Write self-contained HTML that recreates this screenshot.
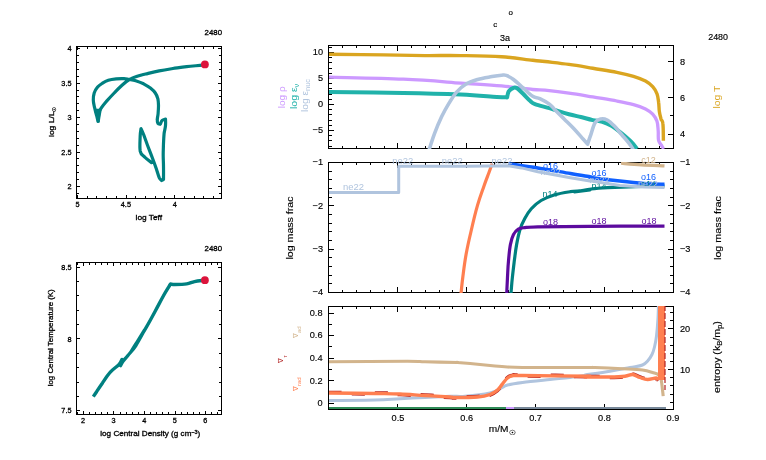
<!DOCTYPE html>
<html lang="en"><head><meta charset="utf-8"><title>pgstar 2480</title>
<style>html,body{margin:0;padding:0;background:#fff;overflow:hidden}svg{display:block}text{font-family:"Liberation Sans",sans-serif;stroke-width:0.15px;paint-order:stroke}</style>
</head><body>
<svg width="766" height="460" viewBox="0 0 766 460">
<rect x="0" y="0" width="766" height="460" fill="#fff"/>
<g id="hr">
<path d="M204.9 64.6C204.4 64.7 205.6 64.9 202.3 65.2C199.0 65.6 191.9 66.0 186.7 66.6C181.4 67.2 177.9 67.8 172.9 68.5C168.0 69.3 164.2 69.9 159.2 70.9C154.3 71.9 149.8 73.0 145.5 74.0C141.3 75.1 138.7 75.7 135.7 76.8C132.7 77.8 131.4 78.4 128.9 79.9C126.4 81.4 124.7 82.8 122.0 85.2C119.4 87.5 117.0 90.1 114.2 93.0C111.4 95.9 108.7 98.8 106.4 101.4C104.1 104.1 102.9 105.5 101.5 107.7C100.1 109.9 99.1 111.1 98.5 113.6C97.9 116.0 98.2 120.0 98.1 121.4C97.9 120.4 97.2 118.0 96.6 115.5C95.9 113.1 95.2 110.5 94.6 107.7C94.0 104.9 93.3 102.5 93.3 99.9C93.2 97.2 93.5 95.3 94.2 93.0C95.0 90.7 96.1 88.9 97.6 87.1C99.0 85.4 100.5 84.5 102.5 83.2C104.4 82.0 105.9 81.1 108.3 80.3C110.8 79.5 113.3 79.2 116.2 78.9C119.0 78.6 121.7 78.7 124.0 78.7C126.3 78.8 126.8 79.0 128.9 79.3C131.0 79.7 133.1 79.9 135.7 80.7C138.4 81.5 140.9 82.5 143.6 83.8C146.2 85.2 148.3 86.5 150.4 88.1C152.5 89.8 154.0 91.1 155.3 93.0C156.7 95.0 157.3 96.6 157.9 98.9C158.4 101.2 158.4 103.1 158.5 105.7C158.5 108.4 158.3 111.1 158.1 113.6C157.9 116.0 157.3 117.7 157.3 119.4C157.2 121.2 157.3 122.5 157.9 123.4C158.4 124.2 159.8 124.2 160.2 124.3C160.6 123.6 161.2 121.4 162.2 120.4C163.1 119.5 164.9 119.3 165.5 119.1C165.5 120.2 165.8 123.1 165.5 125.7C165.3 128.3 164.5 130.3 164.1 133.5C163.8 136.7 163.7 139.4 163.5 143.3C163.4 147.2 163.2 150.8 163.2 155.0C163.2 159.3 163.5 162.4 163.5 166.8C163.6 171.2 163.5 177.2 163.5 179.5C163.2 179.7 161.9 180.3 161.6 180.5C161.2 180.0 160.2 179.7 159.2 177.6C158.3 175.4 157.5 172.3 156.3 168.7C155.1 165.2 154.0 162.2 152.4 158.0C150.8 153.7 149.1 149.5 147.5 145.2C145.9 141.0 144.7 137.5 143.6 134.5C142.4 131.5 141.5 129.7 141.0 128.6C140.9 129.8 140.4 131.4 140.2 135.5C140.1 139.5 139.5 147.2 140.2 151.1C141.0 155.0 142.4 154.8 144.6 157.0C146.7 159.2 151.0 162.1 152.4 163.3" fill="none" stroke="#008080" stroke-width="3.20" stroke-linejoin="round" stroke-linecap="butt" />
<polygon points="95,108.7 101.9,108.7 99.6,122.6 96.9,122.6" fill="#008080"/>
<circle cx="204.9" cy="64.4" r="3.9" fill="#DC143C"/>
<g shape-rendering="crispEdges">
<rect x="76" y="46" width="146" height="1" fill="#000"/>
<rect x="76" y="198" width="146" height="1" fill="#000"/>
<rect x="76" y="46" width="1" height="153" fill="#000"/>
<rect x="221" y="46" width="1" height="153" fill="#000"/>
<rect x="77" y="195" width="1" height="3" fill="#000"/>
<rect x="77" y="47" width="1" height="3" fill="#000"/>
<rect x="87" y="196" width="1" height="2" fill="#000"/>
<rect x="87" y="47" width="1" height="2" fill="#000"/>
<rect x="96" y="196" width="1" height="2" fill="#000"/>
<rect x="96" y="47" width="1" height="2" fill="#000"/>
<rect x="106" y="196" width="1" height="2" fill="#000"/>
<rect x="106" y="47" width="1" height="2" fill="#000"/>
<rect x="116" y="196" width="1" height="2" fill="#000"/>
<rect x="116" y="47" width="1" height="2" fill="#000"/>
<rect x="126" y="195" width="1" height="3" fill="#000"/>
<rect x="126" y="47" width="1" height="3" fill="#000"/>
<rect x="135" y="196" width="1" height="2" fill="#000"/>
<rect x="135" y="47" width="1" height="2" fill="#000"/>
<rect x="145" y="196" width="1" height="2" fill="#000"/>
<rect x="145" y="47" width="1" height="2" fill="#000"/>
<rect x="155" y="196" width="1" height="2" fill="#000"/>
<rect x="155" y="47" width="1" height="2" fill="#000"/>
<rect x="164" y="196" width="1" height="2" fill="#000"/>
<rect x="164" y="47" width="1" height="2" fill="#000"/>
<rect x="174" y="195" width="1" height="3" fill="#000"/>
<rect x="174" y="47" width="1" height="3" fill="#000"/>
<rect x="184" y="196" width="1" height="2" fill="#000"/>
<rect x="184" y="47" width="1" height="2" fill="#000"/>
<rect x="194" y="196" width="1" height="2" fill="#000"/>
<rect x="194" y="47" width="1" height="2" fill="#000"/>
<rect x="203" y="196" width="1" height="2" fill="#000"/>
<rect x="203" y="47" width="1" height="2" fill="#000"/>
<rect x="213" y="196" width="1" height="2" fill="#000"/>
<rect x="213" y="47" width="1" height="2" fill="#000"/>
<rect x="77" y="48" width="3" height="1" fill="#000"/>
<rect x="218" y="48" width="3" height="1" fill="#000"/>
<rect x="77" y="55" width="2" height="1" fill="#000"/>
<rect x="219" y="55" width="2" height="1" fill="#000"/>
<rect x="77" y="62" width="2" height="1" fill="#000"/>
<rect x="219" y="62" width="2" height="1" fill="#000"/>
<rect x="77" y="69" width="2" height="1" fill="#000"/>
<rect x="219" y="69" width="2" height="1" fill="#000"/>
<rect x="77" y="76" width="2" height="1" fill="#000"/>
<rect x="219" y="76" width="2" height="1" fill="#000"/>
<rect x="77" y="83" width="3" height="1" fill="#000"/>
<rect x="218" y="83" width="3" height="1" fill="#000"/>
<rect x="77" y="90" width="2" height="1" fill="#000"/>
<rect x="219" y="90" width="2" height="1" fill="#000"/>
<rect x="77" y="96" width="2" height="1" fill="#000"/>
<rect x="219" y="96" width="2" height="1" fill="#000"/>
<rect x="77" y="103" width="2" height="1" fill="#000"/>
<rect x="219" y="103" width="2" height="1" fill="#000"/>
<rect x="77" y="110" width="2" height="1" fill="#000"/>
<rect x="219" y="110" width="2" height="1" fill="#000"/>
<rect x="77" y="117" width="3" height="1" fill="#000"/>
<rect x="218" y="117" width="3" height="1" fill="#000"/>
<rect x="77" y="124" width="2" height="1" fill="#000"/>
<rect x="219" y="124" width="2" height="1" fill="#000"/>
<rect x="77" y="131" width="2" height="1" fill="#000"/>
<rect x="219" y="131" width="2" height="1" fill="#000"/>
<rect x="77" y="138" width="2" height="1" fill="#000"/>
<rect x="219" y="138" width="2" height="1" fill="#000"/>
<rect x="77" y="145" width="2" height="1" fill="#000"/>
<rect x="219" y="145" width="2" height="1" fill="#000"/>
<rect x="77" y="152" width="3" height="1" fill="#000"/>
<rect x="218" y="152" width="3" height="1" fill="#000"/>
<rect x="77" y="158" width="2" height="1" fill="#000"/>
<rect x="219" y="158" width="2" height="1" fill="#000"/>
<rect x="77" y="165" width="2" height="1" fill="#000"/>
<rect x="219" y="165" width="2" height="1" fill="#000"/>
<rect x="77" y="172" width="2" height="1" fill="#000"/>
<rect x="219" y="172" width="2" height="1" fill="#000"/>
<rect x="77" y="179" width="2" height="1" fill="#000"/>
<rect x="219" y="179" width="2" height="1" fill="#000"/>
<rect x="77" y="186" width="3" height="1" fill="#000"/>
<rect x="218" y="186" width="3" height="1" fill="#000"/>
<rect x="77" y="193" width="2" height="1" fill="#000"/>
<rect x="219" y="193" width="2" height="1" fill="#000"/>
</g>
<text x="71.5" y="51.1" font-size="7.3" fill="#000" stroke="#000" text-anchor="end"  style="stroke-width:0.3px">4</text>
<text x="71.5" y="85.6" font-size="7.3" fill="#000" stroke="#000" text-anchor="end"  style="stroke-width:0.3px">3.5</text>
<text x="71.5" y="120.1" font-size="7.3" fill="#000" stroke="#000" text-anchor="end"  style="stroke-width:0.3px">3</text>
<text x="71.5" y="154.6" font-size="7.3" fill="#000" stroke="#000" text-anchor="end"  style="stroke-width:0.3px">2.5</text>
<text x="71.5" y="189.1" font-size="7.3" fill="#000" stroke="#000" text-anchor="end"  style="stroke-width:0.3px">2</text>
<text x="77.5" y="207" font-size="7.3" fill="#000" stroke="#000" text-anchor="middle"  style="stroke-width:0.3px">5</text>
<text x="125.9" y="207" font-size="7.3" fill="#000" stroke="#000" text-anchor="middle"  style="stroke-width:0.3px">4.5</text>
<text x="174.8" y="207" font-size="7.3" fill="#000" stroke="#000" text-anchor="middle"  style="stroke-width:0.3px">4</text>
<text x="148.8" y="219.8" font-size="7.5" fill="#000" stroke="#000" text-anchor="middle"  textLength="26.5" lengthAdjust="spacingAndGlyphs" style="stroke-width:0.3px">log Teff</text>
<text x="54" y="122" font-size="7.5" fill="#000" stroke="#000" text-anchor="middle" transform="rotate(-90 54 122)"  textLength="30" lengthAdjust="spacingAndGlyphs" style="stroke-width:0.3px">log L/L<tspan font-size="5" dy="1.5">☉</tspan></text>
<text x="222" y="35" font-size="7.3" fill="#000" stroke="#000" text-anchor="end"  textLength="17.4" lengthAdjust="spacingAndGlyphs" style="stroke-width:0.3px">2480</text>
</g>
<g id="trho">
<path d="M204.9 280.2C203.0 280.5 197.8 280.9 194.5 281.6C191.2 282.3 190.2 283.4 186.7 283.9C183.1 284.5 177.8 284.5 174.9 284.5C172.0 284.5 171.4 284.0 170.6 283.9C170.3 284.4 170.4 284.3 169.0 286.5C167.7 288.7 165.6 291.9 163.2 296.3C160.7 300.7 158.5 305.1 155.3 311.0C152.2 316.8 149.1 322.6 145.5 328.6C142.0 334.6 138.4 340.0 135.7 344.2C133.1 348.5 131.7 350.7 130.8 352.1C133.3 348.1 142.1 334.0 144.6 330.0C143.0 332.8 138.7 341.1 135.7 345.7C132.7 350.2 130.2 352.6 127.9 355.5C125.6 358.3 124.4 359.5 123.0 361.3C121.7 363.2 120.9 364.9 120.5 365.6C120.8 364.5 121.8 360.5 122.0 359.4C121.5 360.3 121.2 362.0 119.1 364.3C117.0 366.6 113.3 368.8 110.3 372.1C107.3 375.4 104.9 379.3 102.5 382.9C100.0 386.4 98.2 389.2 96.6 391.7C94.9 394.1 93.9 395.7 93.3 396.6" fill="none" stroke="#008080" stroke-width="3.40" stroke-linejoin="round" stroke-linecap="butt" />
<circle cx="204.9" cy="280.2" r="3.9" fill="#DC143C"/>
<g shape-rendering="crispEdges">
<rect x="76" y="262" width="146" height="1" fill="#000"/>
<rect x="76" y="414" width="146" height="1" fill="#000"/>
<rect x="76" y="262" width="1" height="153" fill="#000"/>
<rect x="221" y="262" width="1" height="153" fill="#000"/>
<rect x="77" y="412" width="1" height="2" fill="#000"/>
<rect x="77" y="263" width="1" height="2" fill="#000"/>
<rect x="83" y="411" width="1" height="3" fill="#000"/>
<rect x="83" y="263" width="1" height="3" fill="#000"/>
<rect x="89" y="412" width="1" height="2" fill="#000"/>
<rect x="89" y="263" width="1" height="2" fill="#000"/>
<rect x="95" y="412" width="1" height="2" fill="#000"/>
<rect x="95" y="263" width="1" height="2" fill="#000"/>
<rect x="101" y="412" width="1" height="2" fill="#000"/>
<rect x="101" y="263" width="1" height="2" fill="#000"/>
<rect x="107" y="412" width="1" height="2" fill="#000"/>
<rect x="107" y="263" width="1" height="2" fill="#000"/>
<rect x="113" y="411" width="1" height="3" fill="#000"/>
<rect x="113" y="263" width="1" height="3" fill="#000"/>
<rect x="120" y="412" width="1" height="2" fill="#000"/>
<rect x="120" y="263" width="1" height="2" fill="#000"/>
<rect x="126" y="412" width="1" height="2" fill="#000"/>
<rect x="126" y="263" width="1" height="2" fill="#000"/>
<rect x="132" y="412" width="1" height="2" fill="#000"/>
<rect x="132" y="263" width="1" height="2" fill="#000"/>
<rect x="138" y="412" width="1" height="2" fill="#000"/>
<rect x="138" y="263" width="1" height="2" fill="#000"/>
<rect x="144" y="411" width="1" height="3" fill="#000"/>
<rect x="144" y="263" width="1" height="3" fill="#000"/>
<rect x="150" y="412" width="1" height="2" fill="#000"/>
<rect x="150" y="263" width="1" height="2" fill="#000"/>
<rect x="156" y="412" width="1" height="2" fill="#000"/>
<rect x="156" y="263" width="1" height="2" fill="#000"/>
<rect x="162" y="412" width="1" height="2" fill="#000"/>
<rect x="162" y="263" width="1" height="2" fill="#000"/>
<rect x="168" y="412" width="1" height="2" fill="#000"/>
<rect x="168" y="263" width="1" height="2" fill="#000"/>
<rect x="175" y="411" width="1" height="3" fill="#000"/>
<rect x="175" y="263" width="1" height="3" fill="#000"/>
<rect x="181" y="412" width="1" height="2" fill="#000"/>
<rect x="181" y="263" width="1" height="2" fill="#000"/>
<rect x="187" y="412" width="1" height="2" fill="#000"/>
<rect x="187" y="263" width="1" height="2" fill="#000"/>
<rect x="193" y="412" width="1" height="2" fill="#000"/>
<rect x="193" y="263" width="1" height="2" fill="#000"/>
<rect x="199" y="412" width="1" height="2" fill="#000"/>
<rect x="199" y="263" width="1" height="2" fill="#000"/>
<rect x="205" y="411" width="1" height="3" fill="#000"/>
<rect x="205" y="263" width="1" height="3" fill="#000"/>
<rect x="211" y="412" width="1" height="2" fill="#000"/>
<rect x="211" y="263" width="1" height="2" fill="#000"/>
<rect x="217" y="412" width="1" height="2" fill="#000"/>
<rect x="217" y="263" width="1" height="2" fill="#000"/>
<rect x="77" y="267" width="3" height="1" fill="#000"/>
<rect x="218" y="267" width="3" height="1" fill="#000"/>
<rect x="77" y="281" width="2" height="1" fill="#000"/>
<rect x="219" y="281" width="2" height="1" fill="#000"/>
<rect x="77" y="295" width="2" height="1" fill="#000"/>
<rect x="219" y="295" width="2" height="1" fill="#000"/>
<rect x="77" y="310" width="2" height="1" fill="#000"/>
<rect x="219" y="310" width="2" height="1" fill="#000"/>
<rect x="77" y="324" width="2" height="1" fill="#000"/>
<rect x="219" y="324" width="2" height="1" fill="#000"/>
<rect x="77" y="338" width="3" height="1" fill="#000"/>
<rect x="218" y="338" width="3" height="1" fill="#000"/>
<rect x="77" y="353" width="2" height="1" fill="#000"/>
<rect x="219" y="353" width="2" height="1" fill="#000"/>
<rect x="77" y="367" width="2" height="1" fill="#000"/>
<rect x="219" y="367" width="2" height="1" fill="#000"/>
<rect x="77" y="382" width="2" height="1" fill="#000"/>
<rect x="219" y="382" width="2" height="1" fill="#000"/>
<rect x="77" y="396" width="2" height="1" fill="#000"/>
<rect x="219" y="396" width="2" height="1" fill="#000"/>
<rect x="77" y="410" width="3" height="1" fill="#000"/>
<rect x="218" y="410" width="3" height="1" fill="#000"/>
</g>
<text x="71.5" y="269.6" font-size="7.3" fill="#000" stroke="#000" text-anchor="end"  style="stroke-width:0.3px">8.5</text>
<text x="71.5" y="341.6" font-size="7.3" fill="#000" stroke="#000" text-anchor="end"  style="stroke-width:0.3px">8</text>
<text x="71.5" y="413.3" font-size="7.3" fill="#000" stroke="#000" text-anchor="end"  style="stroke-width:0.3px">7.5</text>
<text x="83" y="422.9" font-size="7.3" fill="#000" stroke="#000" text-anchor="middle"  style="stroke-width:0.3px">2</text>
<text x="113.5" y="422.9" font-size="7.3" fill="#000" stroke="#000" text-anchor="middle"  style="stroke-width:0.3px">3</text>
<text x="144.2" y="422.9" font-size="7.3" fill="#000" stroke="#000" text-anchor="middle"  style="stroke-width:0.3px">4</text>
<text x="174.8" y="422.9" font-size="7.3" fill="#000" stroke="#000" text-anchor="middle"  style="stroke-width:0.3px">5</text>
<text x="205.3" y="422.9" font-size="7.3" fill="#000" stroke="#000" text-anchor="middle"  style="stroke-width:0.3px">6</text>
<text x="150.3" y="436.1" font-size="7.5" fill="#000" stroke="#000" text-anchor="middle"  textLength="100" lengthAdjust="spacingAndGlyphs" style="stroke-width:0.3px">log Central Density (g cm<tspan font-size="5" dy="-2.5">−3</tspan><tspan dy="2.5">)</tspan></text>
<text x="53.3" y="337.8" font-size="7.5" fill="#000" stroke="#000" text-anchor="middle" transform="rotate(-90 53.3 337.8)"  textLength="97" lengthAdjust="spacingAndGlyphs" style="stroke-width:0.3px">log Central Temperature (K)</text>
<text x="222" y="250.5" font-size="7.3" fill="#000" stroke="#000" text-anchor="end"  textLength="17.4" lengthAdjust="spacingAndGlyphs" style="stroke-width:0.3px">2480</text>
</g>
<g id="top">
<clipPath id="ctop"><rect x="329" y="45" width="344" height="104"/></clipPath>
<g shape-rendering="crispEdges">
<rect x="328" y="45" width="346" height="1" fill="#000"/>
<rect x="328" y="148" width="346" height="1" fill="#000"/>
<rect x="328" y="45" width="1" height="104" fill="#000"/>
<rect x="673" y="45" width="1" height="104" fill="#000"/>
<rect x="328" y="143" width="1" height="5" fill="#000"/>
<rect x="328" y="46" width="1" height="5" fill="#000"/>
<rect x="342" y="146" width="1" height="2" fill="#000"/>
<rect x="342" y="46" width="1" height="2" fill="#000"/>
<rect x="356" y="146" width="1" height="2" fill="#000"/>
<rect x="356" y="46" width="1" height="2" fill="#000"/>
<rect x="370" y="146" width="1" height="2" fill="#000"/>
<rect x="370" y="46" width="1" height="2" fill="#000"/>
<rect x="384" y="146" width="1" height="2" fill="#000"/>
<rect x="384" y="46" width="1" height="2" fill="#000"/>
<rect x="397" y="143" width="1" height="5" fill="#000"/>
<rect x="397" y="46" width="1" height="5" fill="#000"/>
<rect x="411" y="146" width="1" height="2" fill="#000"/>
<rect x="411" y="46" width="1" height="2" fill="#000"/>
<rect x="425" y="146" width="1" height="2" fill="#000"/>
<rect x="425" y="46" width="1" height="2" fill="#000"/>
<rect x="439" y="146" width="1" height="2" fill="#000"/>
<rect x="439" y="46" width="1" height="2" fill="#000"/>
<rect x="452" y="146" width="1" height="2" fill="#000"/>
<rect x="452" y="46" width="1" height="2" fill="#000"/>
<rect x="466" y="143" width="1" height="5" fill="#000"/>
<rect x="466" y="46" width="1" height="5" fill="#000"/>
<rect x="480" y="146" width="1" height="2" fill="#000"/>
<rect x="480" y="46" width="1" height="2" fill="#000"/>
<rect x="494" y="146" width="1" height="2" fill="#000"/>
<rect x="494" y="46" width="1" height="2" fill="#000"/>
<rect x="508" y="146" width="1" height="2" fill="#000"/>
<rect x="508" y="46" width="1" height="2" fill="#000"/>
<rect x="521" y="146" width="1" height="2" fill="#000"/>
<rect x="521" y="46" width="1" height="2" fill="#000"/>
<rect x="535" y="143" width="1" height="5" fill="#000"/>
<rect x="535" y="46" width="1" height="5" fill="#000"/>
<rect x="549" y="146" width="1" height="2" fill="#000"/>
<rect x="549" y="46" width="1" height="2" fill="#000"/>
<rect x="563" y="146" width="1" height="2" fill="#000"/>
<rect x="563" y="46" width="1" height="2" fill="#000"/>
<rect x="576" y="146" width="1" height="2" fill="#000"/>
<rect x="576" y="46" width="1" height="2" fill="#000"/>
<rect x="590" y="146" width="1" height="2" fill="#000"/>
<rect x="590" y="46" width="1" height="2" fill="#000"/>
<rect x="604" y="143" width="1" height="5" fill="#000"/>
<rect x="604" y="46" width="1" height="5" fill="#000"/>
<rect x="618" y="146" width="1" height="2" fill="#000"/>
<rect x="618" y="46" width="1" height="2" fill="#000"/>
<rect x="632" y="146" width="1" height="2" fill="#000"/>
<rect x="632" y="46" width="1" height="2" fill="#000"/>
<rect x="645" y="146" width="1" height="2" fill="#000"/>
<rect x="645" y="46" width="1" height="2" fill="#000"/>
<rect x="659" y="146" width="1" height="2" fill="#000"/>
<rect x="659" y="46" width="1" height="2" fill="#000"/>
<rect x="673" y="143" width="1" height="5" fill="#000"/>
<rect x="673" y="46" width="1" height="5" fill="#000"/>
<rect x="329" y="47" width="3" height="1" fill="#000"/>
<rect x="329" y="52" width="5" height="1" fill="#000"/>
<rect x="329" y="57" width="3" height="1" fill="#000"/>
<rect x="329" y="62" width="3" height="1" fill="#000"/>
<rect x="329" y="68" width="3" height="1" fill="#000"/>
<rect x="329" y="73" width="3" height="1" fill="#000"/>
<rect x="329" y="78" width="5" height="1" fill="#000"/>
<rect x="329" y="83" width="3" height="1" fill="#000"/>
<rect x="329" y="88" width="3" height="1" fill="#000"/>
<rect x="329" y="94" width="3" height="1" fill="#000"/>
<rect x="329" y="99" width="3" height="1" fill="#000"/>
<rect x="329" y="104" width="5" height="1" fill="#000"/>
<rect x="329" y="109" width="3" height="1" fill="#000"/>
<rect x="329" y="114" width="3" height="1" fill="#000"/>
<rect x="329" y="120" width="3" height="1" fill="#000"/>
<rect x="329" y="125" width="3" height="1" fill="#000"/>
<rect x="329" y="130" width="5" height="1" fill="#000"/>
<rect x="329" y="135" width="3" height="1" fill="#000"/>
<rect x="329" y="140" width="3" height="1" fill="#000"/>
<rect x="329" y="146" width="3" height="1" fill="#000"/>
<rect x="668" y="61" width="5" height="1" fill="#000"/>
<rect x="670" y="79" width="3" height="1" fill="#000"/>
<rect x="668" y="97" width="5" height="1" fill="#000"/>
<rect x="670" y="115" width="3" height="1" fill="#000"/>
<rect x="668" y="134" width="5" height="1" fill="#000"/>
</g>
<g clip-path="url(#ctop)">
<path d="M328.9 54.3C338.8 54.4 366.4 54.7 383.7 54.9C401.0 55.1 411.1 55.4 425.0 55.6C438.9 55.7 447.1 55.3 460.9 55.6C474.7 55.8 488.6 55.9 501.6 56.7C514.5 57.6 524.8 59.5 532.7 60.3C540.5 61.2 538.5 60.8 545.0 61.5C551.5 62.3 560.3 63.2 568.9 64.4C577.5 65.6 584.2 66.8 592.8 68.2C601.5 69.7 609.4 70.8 616.8 72.3C624.1 73.8 628.3 74.8 633.5 76.4C638.7 78.0 642.0 79.3 645.5 81.1C648.9 83.0 650.6 84.4 652.7 86.7C654.7 88.9 655.9 91.0 657.0 93.8C658.0 96.6 658.2 99.0 658.6 102.2C659.1 105.4 658.9 108.8 659.4 111.8C659.8 114.8 660.4 116.8 661.0 118.9C661.7 121.1 662.5 119.8 662.9 123.7C663.4 127.7 663.3 137.7 663.4 140.7" fill="none" stroke="#DAA520" stroke-width="3.40" stroke-linejoin="round" stroke-linecap="butt" />
<path d="M328.9 77.2C342.3 77.6 379.6 78.1 403.3 79.2C427.1 80.2 443.2 81.8 460.9 83.1C478.6 84.3 488.6 84.8 501.6 85.9C514.5 87.1 524.8 88.7 532.7 89.5C540.5 90.3 538.5 89.6 545.0 90.2C551.5 90.9 560.3 91.9 568.9 93.1C577.5 94.3 584.2 95.5 592.8 96.9C601.5 98.4 609.4 99.6 616.8 101.0C624.1 102.4 628.3 103.2 633.5 104.6C638.7 106.0 642.0 107.2 645.5 108.9C648.9 110.6 650.6 111.9 652.7 114.2C654.7 116.4 656.0 118.3 657.0 121.3C658.0 124.4 657.9 127.5 658.2 130.9C658.5 134.4 657.9 137.7 658.6 140.5C659.4 143.3 661.4 145.0 662.2 146.5C663.1 148.0 663.2 148.4 663.4 148.9" fill="none" stroke="#CC99FF" stroke-width="3.30" stroke-linejoin="round" stroke-linecap="butt" />
<path d="M328.9 91.9C342.3 92.1 379.6 92.4 403.3 92.9C427.1 93.3 444.1 93.8 460.9 94.5C477.7 95.3 488.5 96.4 496.8 96.9C505.1 97.5 505.2 97.3 507.1 97.4C507.4 96.3 507.6 93.2 508.7 91.4C509.9 89.7 512.0 88.4 513.5 87.8C515.0 87.3 515.4 87.2 517.1 88.3C518.8 89.4 520.7 91.5 523.1 93.8C525.5 96.1 528.1 99.2 530.3 101.0C532.4 102.9 531.6 102.8 535.0 104.1C538.5 105.4 545.5 107.0 549.4 108.2C553.3 109.3 553.4 109.5 557.0 110.6C560.5 111.7 564.6 113.0 568.9 114.2C573.2 115.3 576.6 116.0 580.9 117.0C585.2 118.1 589.0 119.3 592.8 120.1C596.7 121.0 599.0 120.7 602.4 121.8C605.9 122.9 608.5 124.1 612.0 126.1C615.4 128.2 618.1 130.5 621.6 133.3C625.0 136.1 628.3 138.9 631.1 141.7C633.9 144.5 636.0 147.6 637.1 148.9" fill="none" stroke="#20B2AA" stroke-width="4.00" stroke-linejoin="round" stroke-linecap="butt" />
<path d="M427.4 154.8C427.8 153.5 428.5 151.5 429.8 147.7C431.1 143.8 432.4 138.9 434.6 133.3C436.7 127.7 439.2 121.9 441.7 116.6C444.3 111.2 446.3 107.7 448.9 103.4C451.5 99.1 453.1 96.1 456.1 92.6C459.1 89.2 461.8 86.6 465.7 84.3C469.5 81.9 472.9 80.9 477.6 79.5C482.4 78.1 487.7 77.4 492.0 76.6C496.3 75.8 499.0 75.4 501.6 75.2C504.1 75.0 504.2 74.6 506.3 75.4C508.5 76.2 510.5 77.2 513.5 79.5C516.5 81.7 519.6 84.8 523.1 87.8C526.5 90.9 529.6 94.3 532.7 96.2C535.7 98.2 536.8 97.2 539.8 98.6C542.8 100.0 546.7 102.2 549.4 104.1C552.1 106.1 551.9 106.7 554.6 109.4C557.2 112.0 560.7 115.5 564.1 118.9C567.6 122.4 570.3 124.9 573.7 128.5C577.2 132.2 580.8 136.5 583.3 139.3C585.8 142.1 586.8 143.2 587.6 144.1C588.1 142.6 589.1 139.6 590.5 135.7C591.8 131.8 593.3 125.6 595.2 122.5C597.2 119.5 599.1 119.4 601.2 118.9C603.4 118.5 604.8 118.9 607.2 120.1C609.6 121.4 611.8 123.5 614.4 126.1C617.0 128.7 619.0 131.5 621.6 134.5C624.1 137.5 626.6 140.1 628.7 142.9C630.9 145.7 632.7 148.8 633.5 150.0" fill="none" stroke="#B0C4DE" stroke-width="3.60" stroke-linejoin="round" stroke-linecap="butt" />
</g>
<text x="323" y="55.4" font-size="9.2" fill="#000" stroke="#000" text-anchor="end" >10</text>
<text x="323" y="81.4" font-size="9.2" fill="#000" stroke="#000" text-anchor="end" >5</text>
<text x="323" y="107.4" font-size="9.2" fill="#000" stroke="#000" text-anchor="end" >0</text>
<text x="323" y="133.4" font-size="9.2" fill="#000" stroke="#000" text-anchor="end" >−5</text>
<text x="680" y="64.7" font-size="9.2" fill="#000" stroke="#000" text-anchor="start" >8</text>
<text x="680" y="100.7" font-size="9.2" fill="#000" stroke="#000" text-anchor="start" >6</text>
<text x="680" y="137" font-size="9.2" fill="#000" stroke="#000" text-anchor="start" >4</text>
<text x="285" y="97.3" font-size="9" fill="#CC99FF" stroke="#CC99FF" text-anchor="middle" transform="rotate(-90 285 97.3)"  textLength="22" lengthAdjust="spacingAndGlyphs" style="stroke-width:0">log ρ</text>
<text x="297" y="96.3" font-size="9" fill="#20B2AA" stroke="#20B2AA" text-anchor="middle" transform="rotate(-90 297 96.3)"  textLength="25.4" lengthAdjust="spacingAndGlyphs" style="stroke-width:0">log ε<tspan font-size="6.5" dy="2">ν</tspan></text>
<text x="307.5" y="95.5" font-size="9" fill="#B0C4DE" stroke="#B0C4DE" text-anchor="middle" transform="rotate(-90 307.5 95.5)"  textLength="33" lengthAdjust="spacingAndGlyphs" style="stroke-width:0">log ε<tspan font-size="6.5" dy="2">nuc</tspan></text>
<text x="719.5" y="97" font-size="9" fill="#DAA520" stroke="#DAA520" text-anchor="middle" transform="rotate(-90 719.5 97)"  textLength="22.9" lengthAdjust="spacingAndGlyphs" style="stroke-width:0">log T</text>
<text x="505" y="40.7" font-size="9" fill="#000" stroke="#000" text-anchor="middle" >3a</text>
<text x="510.8" y="14.8" font-size="8" fill="#000" stroke="#000" text-anchor="middle" >o</text>
<text x="495.2" y="27.2" font-size="8" fill="#000" stroke="#000" text-anchor="middle" >c</text>
<text x="728" y="39.8" font-size="8.7" fill="#000" stroke="#000" text-anchor="end"  textLength="19.8" lengthAdjust="spacingAndGlyphs">2480</text>
</g>
<g id="mid">
<clipPath id="cmid"><rect x="329" y="162" width="344" height="131"/></clipPath>
<g shape-rendering="crispEdges">
<rect x="328" y="162" width="346" height="1" fill="#000"/>
<rect x="328" y="292" width="346" height="1" fill="#000"/>
<rect x="328" y="162" width="1" height="131" fill="#000"/>
<rect x="673" y="162" width="1" height="131" fill="#000"/>
<rect x="328" y="287" width="1" height="5" fill="#000"/>
<rect x="328" y="163" width="1" height="5" fill="#000"/>
<rect x="342" y="290" width="1" height="2" fill="#000"/>
<rect x="342" y="163" width="1" height="2" fill="#000"/>
<rect x="356" y="290" width="1" height="2" fill="#000"/>
<rect x="356" y="163" width="1" height="2" fill="#000"/>
<rect x="370" y="290" width="1" height="2" fill="#000"/>
<rect x="370" y="163" width="1" height="2" fill="#000"/>
<rect x="384" y="290" width="1" height="2" fill="#000"/>
<rect x="384" y="163" width="1" height="2" fill="#000"/>
<rect x="397" y="287" width="1" height="5" fill="#000"/>
<rect x="397" y="163" width="1" height="5" fill="#000"/>
<rect x="411" y="290" width="1" height="2" fill="#000"/>
<rect x="411" y="163" width="1" height="2" fill="#000"/>
<rect x="425" y="290" width="1" height="2" fill="#000"/>
<rect x="425" y="163" width="1" height="2" fill="#000"/>
<rect x="439" y="290" width="1" height="2" fill="#000"/>
<rect x="439" y="163" width="1" height="2" fill="#000"/>
<rect x="452" y="290" width="1" height="2" fill="#000"/>
<rect x="452" y="163" width="1" height="2" fill="#000"/>
<rect x="466" y="287" width="1" height="5" fill="#000"/>
<rect x="466" y="163" width="1" height="5" fill="#000"/>
<rect x="480" y="290" width="1" height="2" fill="#000"/>
<rect x="480" y="163" width="1" height="2" fill="#000"/>
<rect x="494" y="290" width="1" height="2" fill="#000"/>
<rect x="494" y="163" width="1" height="2" fill="#000"/>
<rect x="508" y="290" width="1" height="2" fill="#000"/>
<rect x="508" y="163" width="1" height="2" fill="#000"/>
<rect x="521" y="290" width="1" height="2" fill="#000"/>
<rect x="521" y="163" width="1" height="2" fill="#000"/>
<rect x="535" y="287" width="1" height="5" fill="#000"/>
<rect x="535" y="163" width="1" height="5" fill="#000"/>
<rect x="549" y="290" width="1" height="2" fill="#000"/>
<rect x="549" y="163" width="1" height="2" fill="#000"/>
<rect x="563" y="290" width="1" height="2" fill="#000"/>
<rect x="563" y="163" width="1" height="2" fill="#000"/>
<rect x="576" y="290" width="1" height="2" fill="#000"/>
<rect x="576" y="163" width="1" height="2" fill="#000"/>
<rect x="590" y="290" width="1" height="2" fill="#000"/>
<rect x="590" y="163" width="1" height="2" fill="#000"/>
<rect x="604" y="287" width="1" height="5" fill="#000"/>
<rect x="604" y="163" width="1" height="5" fill="#000"/>
<rect x="618" y="290" width="1" height="2" fill="#000"/>
<rect x="618" y="163" width="1" height="2" fill="#000"/>
<rect x="632" y="290" width="1" height="2" fill="#000"/>
<rect x="632" y="163" width="1" height="2" fill="#000"/>
<rect x="645" y="290" width="1" height="2" fill="#000"/>
<rect x="645" y="163" width="1" height="2" fill="#000"/>
<rect x="659" y="290" width="1" height="2" fill="#000"/>
<rect x="659" y="163" width="1" height="2" fill="#000"/>
<rect x="673" y="287" width="1" height="5" fill="#000"/>
<rect x="673" y="163" width="1" height="5" fill="#000"/>
<rect x="329" y="162" width="5" height="1" fill="#000"/>
<rect x="668" y="162" width="5" height="1" fill="#000"/>
<rect x="329" y="171" width="3" height="1" fill="#000"/>
<rect x="670" y="171" width="3" height="1" fill="#000"/>
<rect x="329" y="179" width="3" height="1" fill="#000"/>
<rect x="670" y="179" width="3" height="1" fill="#000"/>
<rect x="329" y="188" width="3" height="1" fill="#000"/>
<rect x="670" y="188" width="3" height="1" fill="#000"/>
<rect x="329" y="197" width="3" height="1" fill="#000"/>
<rect x="670" y="197" width="3" height="1" fill="#000"/>
<rect x="329" y="205" width="5" height="1" fill="#000"/>
<rect x="668" y="205" width="5" height="1" fill="#000"/>
<rect x="329" y="214" width="3" height="1" fill="#000"/>
<rect x="670" y="214" width="3" height="1" fill="#000"/>
<rect x="329" y="223" width="3" height="1" fill="#000"/>
<rect x="670" y="223" width="3" height="1" fill="#000"/>
<rect x="329" y="231" width="3" height="1" fill="#000"/>
<rect x="670" y="231" width="3" height="1" fill="#000"/>
<rect x="329" y="240" width="3" height="1" fill="#000"/>
<rect x="670" y="240" width="3" height="1" fill="#000"/>
<rect x="329" y="249" width="5" height="1" fill="#000"/>
<rect x="668" y="249" width="5" height="1" fill="#000"/>
<rect x="329" y="257" width="3" height="1" fill="#000"/>
<rect x="670" y="257" width="3" height="1" fill="#000"/>
<rect x="329" y="266" width="3" height="1" fill="#000"/>
<rect x="670" y="266" width="3" height="1" fill="#000"/>
<rect x="329" y="275" width="3" height="1" fill="#000"/>
<rect x="670" y="275" width="3" height="1" fill="#000"/>
<rect x="329" y="283" width="3" height="1" fill="#000"/>
<rect x="670" y="283" width="3" height="1" fill="#000"/>
<rect x="329" y="292" width="5" height="1" fill="#000"/>
<rect x="668" y="292" width="5" height="1" fill="#000"/>
</g>
<g clip-path="url(#cmid)">
<path d="M460.5 296.7C460.7 295.8 460.8 295.4 461.2 291.8C461.6 288.3 461.9 283.9 462.8 277.2C463.7 270.4 464.6 262.6 466.1 254.3C467.6 246.1 468.9 240.3 471.0 231.5C473.0 222.7 475.1 213.6 477.5 205.4C479.8 197.2 482.0 191.7 484.0 185.9C486.1 180.0 487.4 176.8 488.9 172.8C490.4 168.8 491.6 165.3 492.2 163.7" fill="none" stroke="#FF7F50" stroke-width="3.20" stroke-linejoin="round" stroke-linecap="butt" />
<path d="M510.8 296.7C510.8 295.8 510.8 295.4 511.1 291.8C511.4 288.3 511.8 282.7 512.4 277.2C513.0 271.6 513.6 266.7 514.3 260.9C515.1 255.0 515.6 250.1 516.6 244.6C517.6 239.0 518.4 234.6 519.9 229.9C521.3 225.2 522.7 222.3 524.8 218.5C526.8 214.7 528.4 211.9 531.3 208.7C534.2 205.5 537.0 203.0 541.1 200.5C545.2 198.1 548.8 196.6 554.1 195.0C559.4 193.4 564.0 192.7 570.4 191.7C576.9 190.8 586.5 190.1 590.0 189.8C587.2 190.2 577.2 191.5 574.4 191.9C577.4 191.3 585.1 189.8 591.1 189.0C597.1 188.2 602.2 187.9 607.8 187.6C613.4 187.2 612.0 187.4 622.2 187.1C632.4 186.8 656.9 186.1 664.5 185.9" fill="none" stroke="#008080" stroke-width="3.20" stroke-linejoin="round" stroke-linecap="butt" />
<path d="M506.5 296.7C506.6 295.8 506.7 295.4 506.8 291.8C507.0 288.3 507.2 282.7 507.5 277.2C507.8 271.6 507.9 266.7 508.5 260.9C509.0 255.0 509.5 249.3 510.4 244.6C511.3 239.9 512.0 237.5 513.4 234.8C514.8 232.0 516.2 230.5 518.3 229.2C520.3 227.9 521.3 228.0 524.8 227.6C528.3 227.2 526.1 227.2 537.8 226.9C549.6 226.7 567.2 226.5 590.0 226.3C612.8 226.1 651.1 226.1 664.5 226.1" fill="none" stroke="#5C0A9E" stroke-width="3.20" stroke-linejoin="round" stroke-linecap="butt" />
<path d="M508.5 163.7C513.8 164.5 526.7 166.2 537.8 167.9C549.0 169.7 561.0 171.9 570.4 173.5C579.8 175.1 586.3 176.0 590.0 176.7C593.7 177.5 585.7 176.7 591.1 177.5C596.5 178.3 610.3 180.0 619.8 181.1C629.3 182.2 635.7 182.9 643.7 183.5C651.8 184.1 660.8 184.1 664.5 184.2" fill="none" stroke="#1060FF" stroke-width="3.50" stroke-linejoin="round" stroke-linecap="butt" />
<path d="M621.0 163.2C624.7 163.5 633.5 164.4 641.3 164.8C649.2 165.3 660.4 165.6 664.5 165.8" fill="none" stroke="#D2B48C" stroke-width="3.30" stroke-linejoin="round" stroke-linecap="butt" />
</g>
<text x="353.5" y="190.3" font-size="9" fill="#B0C4DE" stroke="#B0C4DE" text-anchor="middle"  textLength="21" lengthAdjust="spacingAndGlyphs" style="stroke-width:0">ne22</text>
<text x="402.7" y="164" font-size="9" fill="#B0C4DE" stroke="#B0C4DE" text-anchor="middle"  textLength="21" lengthAdjust="spacingAndGlyphs" style="stroke-width:0">ne22</text>
<text x="452.2" y="164" font-size="9" fill="#B0C4DE" stroke="#B0C4DE" text-anchor="middle"  textLength="21" lengthAdjust="spacingAndGlyphs" style="stroke-width:0">ne22</text>
<text x="502" y="164" font-size="9" fill="#B0C4DE" stroke="#B0C4DE" text-anchor="middle"  textLength="21" lengthAdjust="spacingAndGlyphs" style="stroke-width:0">ne22</text>
<text x="550.5" y="168.9" font-size="9" fill="#1060FF" stroke="#1060FF" text-anchor="middle"  style="stroke-width:0">o16</text>
<text x="599" y="176" font-size="9" fill="#1060FF" stroke="#1060FF" text-anchor="middle"  style="stroke-width:0">o16</text>
<text x="648.5" y="180" font-size="9" fill="#1060FF" stroke="#1060FF" text-anchor="middle"  style="stroke-width:0">o16</text>
<text x="550" y="197.3" font-size="9" fill="#008080" stroke="#008080" text-anchor="middle"  style="stroke-width:0">n14</text>
<text x="599" y="188.5" font-size="9" fill="#008080" stroke="#008080" text-anchor="middle"  style="stroke-width:0">n14</text>
<text x="648.5" y="187" font-size="9" fill="#008080" stroke="#008080" text-anchor="middle"  style="stroke-width:0">n14</text>
<text x="550.5" y="174.5" font-size="9" fill="#B0C4DE" stroke="#B0C4DE" text-anchor="middle"  style="stroke-width:0">ne22</text>
<text x="599.5" y="183" font-size="9" fill="#B0C4DE" stroke="#B0C4DE" text-anchor="middle"  style="stroke-width:0">ne22</text>
<text x="648" y="187" font-size="9" fill="#B0C4DE" stroke="#B0C4DE" text-anchor="middle"  style="stroke-width:0">ne22</text>
<text x="550.5" y="225" font-size="9" fill="#5C0A9E" stroke="#5C0A9E" text-anchor="middle"  style="stroke-width:0">o18</text>
<text x="599" y="223.7" font-size="9" fill="#5C0A9E" stroke="#5C0A9E" text-anchor="middle"  style="stroke-width:0">o18</text>
<text x="649" y="223.7" font-size="9" fill="#5C0A9E" stroke="#5C0A9E" text-anchor="middle"  style="stroke-width:0">o18</text>
<text x="648.5" y="163.2" font-size="9" fill="#D2B48C" stroke="#D2B48C" text-anchor="middle"  style="stroke-width:0">c12</text>
<g clip-path="url(#cmid)">
<path d="M328.6 192.6 L398.7 192.6 L398.7 166.3 L467.3 166.3 L508.5 165.7 L521.5 167.9 L537.8 171.8 L570.4 177.7 L590.0 181.0 L591.1 181.1 L619.8 185.4 L643.7 187.1 L664.5 187.6" fill="none" stroke="#B0C4DE" stroke-width="3.00" stroke-linejoin="round" stroke-linecap="butt" stroke-linejoin="miter"/>
</g>
<text x="323" y="165.2" font-size="9.2" fill="#000" stroke="#000" text-anchor="end" >−1</text>
<text x="680" y="165.2" font-size="9.2" fill="#000" stroke="#000" text-anchor="start" >−1</text>
<text x="323" y="208.5" font-size="9.2" fill="#000" stroke="#000" text-anchor="end" >−2</text>
<text x="680" y="208.5" font-size="9.2" fill="#000" stroke="#000" text-anchor="start" >−2</text>
<text x="323" y="251.9" font-size="9.2" fill="#000" stroke="#000" text-anchor="end" >−3</text>
<text x="680" y="251.9" font-size="9.2" fill="#000" stroke="#000" text-anchor="start" >−3</text>
<text x="323" y="295.2" font-size="9.2" fill="#000" stroke="#000" text-anchor="end" >−4</text>
<text x="680" y="295.2" font-size="9.2" fill="#000" stroke="#000" text-anchor="start" >−4</text>
<text x="293.2" y="228" font-size="9" fill="#000" stroke="#000" text-anchor="middle" transform="rotate(-90 293.2 228)"  textLength="63" lengthAdjust="spacingAndGlyphs">log mass frac</text>
<text x="721.2" y="228" font-size="9" fill="#000" stroke="#000" text-anchor="middle" transform="rotate(-90 721.2 228)"  textLength="64" lengthAdjust="spacingAndGlyphs">log mass frac</text>
</g>
<g id="bot">
<clipPath id="cbot"><rect x="329" y="306" width="344" height="103"/></clipPath>
<g shape-rendering="crispEdges">
<rect x="328" y="306" width="346" height="1" fill="#000"/>
<rect x="328" y="409" width="346" height="1" fill="#000"/>
<rect x="328" y="306" width="1" height="104" fill="#000"/>
<rect x="673" y="306" width="1" height="104" fill="#000"/>
<rect x="328" y="404" width="1" height="5" fill="#000"/>
<rect x="328" y="307" width="1" height="5" fill="#000"/>
<rect x="342" y="407" width="1" height="2" fill="#000"/>
<rect x="342" y="307" width="1" height="2" fill="#000"/>
<rect x="356" y="407" width="1" height="2" fill="#000"/>
<rect x="356" y="307" width="1" height="2" fill="#000"/>
<rect x="370" y="407" width="1" height="2" fill="#000"/>
<rect x="370" y="307" width="1" height="2" fill="#000"/>
<rect x="384" y="407" width="1" height="2" fill="#000"/>
<rect x="384" y="307" width="1" height="2" fill="#000"/>
<rect x="397" y="404" width="1" height="5" fill="#000"/>
<rect x="397" y="307" width="1" height="5" fill="#000"/>
<rect x="411" y="407" width="1" height="2" fill="#000"/>
<rect x="411" y="307" width="1" height="2" fill="#000"/>
<rect x="425" y="407" width="1" height="2" fill="#000"/>
<rect x="425" y="307" width="1" height="2" fill="#000"/>
<rect x="439" y="407" width="1" height="2" fill="#000"/>
<rect x="439" y="307" width="1" height="2" fill="#000"/>
<rect x="452" y="407" width="1" height="2" fill="#000"/>
<rect x="452" y="307" width="1" height="2" fill="#000"/>
<rect x="466" y="404" width="1" height="5" fill="#000"/>
<rect x="466" y="307" width="1" height="5" fill="#000"/>
<rect x="480" y="407" width="1" height="2" fill="#000"/>
<rect x="480" y="307" width="1" height="2" fill="#000"/>
<rect x="494" y="407" width="1" height="2" fill="#000"/>
<rect x="494" y="307" width="1" height="2" fill="#000"/>
<rect x="508" y="407" width="1" height="2" fill="#000"/>
<rect x="508" y="307" width="1" height="2" fill="#000"/>
<rect x="521" y="407" width="1" height="2" fill="#000"/>
<rect x="521" y="307" width="1" height="2" fill="#000"/>
<rect x="535" y="404" width="1" height="5" fill="#000"/>
<rect x="535" y="307" width="1" height="5" fill="#000"/>
<rect x="549" y="407" width="1" height="2" fill="#000"/>
<rect x="549" y="307" width="1" height="2" fill="#000"/>
<rect x="563" y="407" width="1" height="2" fill="#000"/>
<rect x="563" y="307" width="1" height="2" fill="#000"/>
<rect x="576" y="407" width="1" height="2" fill="#000"/>
<rect x="576" y="307" width="1" height="2" fill="#000"/>
<rect x="590" y="407" width="1" height="2" fill="#000"/>
<rect x="590" y="307" width="1" height="2" fill="#000"/>
<rect x="604" y="404" width="1" height="5" fill="#000"/>
<rect x="604" y="307" width="1" height="5" fill="#000"/>
<rect x="618" y="407" width="1" height="2" fill="#000"/>
<rect x="618" y="307" width="1" height="2" fill="#000"/>
<rect x="632" y="407" width="1" height="2" fill="#000"/>
<rect x="632" y="307" width="1" height="2" fill="#000"/>
<rect x="645" y="407" width="1" height="2" fill="#000"/>
<rect x="645" y="307" width="1" height="2" fill="#000"/>
<rect x="659" y="407" width="1" height="2" fill="#000"/>
<rect x="659" y="307" width="1" height="2" fill="#000"/>
<rect x="673" y="404" width="1" height="5" fill="#000"/>
<rect x="673" y="307" width="1" height="5" fill="#000"/>
<rect x="329" y="313" width="5" height="1" fill="#000"/>
<rect x="329" y="324" width="3" height="1" fill="#000"/>
<rect x="329" y="335" width="5" height="1" fill="#000"/>
<rect x="329" y="346" width="3" height="1" fill="#000"/>
<rect x="329" y="358" width="5" height="1" fill="#000"/>
<rect x="329" y="369" width="3" height="1" fill="#000"/>
<rect x="329" y="380" width="5" height="1" fill="#000"/>
<rect x="329" y="392" width="3" height="1" fill="#000"/>
<rect x="329" y="403" width="5" height="1" fill="#000"/>
<rect x="670" y="312" width="3" height="1" fill="#000"/>
<rect x="670" y="320" width="3" height="1" fill="#000"/>
<rect x="668" y="328" width="5" height="1" fill="#000"/>
<rect x="670" y="337" width="3" height="1" fill="#000"/>
<rect x="670" y="345" width="3" height="1" fill="#000"/>
<rect x="670" y="353" width="3" height="1" fill="#000"/>
<rect x="670" y="361" width="3" height="1" fill="#000"/>
<rect x="668" y="369" width="5" height="1" fill="#000"/>
<rect x="670" y="377" width="3" height="1" fill="#000"/>
<rect x="670" y="385" width="3" height="1" fill="#000"/>
<rect x="670" y="394" width="3" height="1" fill="#000"/>
<rect x="670" y="402" width="3" height="1" fill="#000"/>
</g>
<g clip-path="url(#cbot)">
<path d="M328.8 400.5C337.1 400.4 362.2 400.3 375.0 400.0C387.8 399.7 391.0 399.2 400.0 398.8C409.0 398.3 416.0 397.9 425.0 397.5C434.0 397.1 442.8 396.5 450.0 396.2C457.2 396.0 457.8 396.8 465.0 396.2C472.2 395.7 483.2 394.6 490.0 393.0C496.8 391.4 499.4 388.9 502.5 387.5C505.6 386.1 503.9 385.9 507.5 385.0C511.1 384.1 514.9 383.5 522.5 382.5C530.1 381.5 541.5 380.4 550.0 379.5C558.5 378.6 562.8 378.4 570.0 377.5C577.2 376.6 586.4 375.0 590.0 374.5C589.1 374.6 585.9 374.9 585.0 375.0C589.5 374.3 601.9 372.6 610.0 371.2C618.1 369.9 624.1 368.6 630.0 367.5C635.9 366.4 639.3 366.3 642.5 365.0C645.7 363.7 646.3 362.4 648.0 360.5C649.7 358.6 650.8 356.9 652.0 354.5C653.2 352.1 653.7 350.3 654.5 347.0C655.3 343.7 655.9 341.2 656.5 336.0C657.1 330.8 657.6 324.5 658.0 318.0C658.4 311.5 658.4 303.2 658.5 300.0" fill="none" stroke="#B0C4DE" stroke-width="3.00" stroke-linejoin="round" stroke-linecap="butt" />
<path d="M328.8 361.8C342.9 361.7 390.2 361.2 407.5 361.2C424.8 361.2 416.0 361.5 425.0 361.8C434.0 362.0 451.6 362.4 457.5 362.5C463.4 362.6 453.9 362.2 457.5 362.5C461.1 362.8 470.8 363.6 477.5 364.2C484.2 364.9 489.6 365.5 495.0 366.0C500.4 366.5 502.6 366.7 507.5 367.0C512.5 367.3 514.4 367.4 522.5 367.5C530.6 367.6 540.4 367.5 552.5 367.5C564.6 367.5 582.4 367.5 590.0 367.5C597.6 367.5 589.1 367.3 595.0 367.5C600.9 367.7 614.0 368.3 622.5 368.8C631.0 369.2 637.1 369.3 642.5 370.0C647.9 370.7 649.6 371.6 652.5 372.5C655.4 373.4 657.2 373.6 658.8 375.0C660.3 376.4 660.6 377.3 661.2 380.0C661.9 382.7 662.1 387.1 662.5 390.0C662.9 392.9 663.1 395.1 663.2 396.2" fill="none" stroke="#D2B48C" stroke-width="3.10" stroke-linejoin="round" stroke-linecap="butt" />
<path d="M328.8 392.3C337.1 392.4 362.2 392.6 375.0 392.8C387.8 393.0 391.0 392.9 400.0 393.3C409.0 393.7 416.0 394.3 425.0 394.8C434.0 395.3 444.6 395.9 450.0 396.3C455.4 396.7 450.1 396.8 455.0 396.8C459.9 396.8 471.2 396.8 477.5 396.3C483.8 395.8 486.4 395.1 490.0 393.8C493.6 392.5 495.2 391.2 497.5 389.3C499.8 387.4 500.7 385.2 502.5 383.1C504.3 380.9 505.7 378.7 507.5 377.3C509.3 375.9 509.8 375.5 512.5 375.1C515.2 374.6 508.6 374.7 522.5 374.8C536.5 374.9 577.9 375.4 590.0 375.6C589.1 375.7 585.9 376.2 585.0 376.3C589.5 376.3 602.8 376.4 610.0 376.3C617.2 376.2 621.0 376.0 625.0 375.6C629.0 375.1 629.8 373.6 632.5 373.8C635.2 374.0 637.3 375.9 640.0 376.8C642.7 377.7 644.6 378.7 647.5 378.8C650.4 378.9 654.3 377.2 656.2 377.3C658.2 377.4 657.9 378.9 658.2 379.3" fill="none" stroke="#B22222" stroke-width="3.20" stroke-linejoin="round" stroke-linecap="butt" stroke-dasharray="13 33"/>
<path d="M328.8 393.7C337.1 393.8 362.2 394.0 375.0 394.2C387.8 394.4 391.0 394.3 400.0 394.7C409.0 395.1 416.0 395.7 425.0 396.2C434.0 396.7 444.6 397.3 450.0 397.7C455.4 398.1 450.1 398.2 455.0 398.2C459.9 398.2 471.2 398.2 477.5 397.7C483.8 397.2 486.4 396.5 490.0 395.2C493.6 393.9 495.2 392.6 497.5 390.7C499.8 388.8 500.7 386.6 502.5 384.4C504.3 382.3 505.7 380.1 507.5 378.7C509.3 377.3 509.8 376.9 512.5 376.4C515.2 376.0 508.6 376.1 522.5 376.2C536.5 376.3 577.9 376.8 590.0 376.9C589.1 377.1 585.9 377.6 585.0 377.7C589.5 377.7 602.8 377.8 610.0 377.7C617.2 377.6 621.0 377.4 625.0 376.9C629.0 376.5 629.8 375.0 632.5 375.2C635.2 375.4 637.3 377.3 640.0 378.2C642.7 379.1 644.6 380.1 647.5 380.2C650.4 380.3 654.3 378.6 656.2 378.7C658.2 378.8 657.9 380.3 658.2 380.7" fill="none" stroke="#B22222" stroke-width="3.20" stroke-linejoin="round" stroke-linecap="butt" stroke-dasharray="13 33" stroke-dashoffset="23"/>
<path d="M328.8 393.0C337.1 393.1 362.2 393.3 375.0 393.5C387.8 393.7 391.0 393.6 400.0 394.0C409.0 394.4 416.0 395.0 425.0 395.5C434.0 396.0 444.6 396.6 450.0 397.0C455.4 397.4 450.1 397.5 455.0 397.5C459.9 397.5 471.2 397.5 477.5 397.0C483.8 396.5 486.4 395.8 490.0 394.5C493.6 393.2 495.2 391.9 497.5 390.0C499.8 388.1 500.7 385.9 502.5 383.8C504.3 381.6 505.7 379.4 507.5 378.0C509.3 376.6 509.8 376.2 512.5 375.8C515.2 375.3 508.6 375.4 522.5 375.5C536.5 375.6 577.9 376.1 590.0 376.2C589.1 376.4 585.9 376.9 585.0 377.0C589.5 377.0 602.8 377.1 610.0 377.0C617.2 376.9 621.0 376.7 625.0 376.2C629.0 375.8 629.8 374.3 632.5 374.5C635.2 374.7 637.3 376.6 640.0 377.5C642.7 378.4 644.6 379.4 647.5 379.5C650.4 379.6 654.3 377.9 656.2 378.0C658.2 378.1 657.9 379.6 658.2 380.0" fill="none" stroke="#FF7F50" stroke-width="3.40" stroke-linejoin="round" stroke-linecap="butt" />
<rect x="658" y="300" width="7" height="80" fill="#FF7F50"/>
<path d="M665.0 305.0 L665.0 390.0" fill="none" stroke="#B22222" stroke-width="1.20" stroke-linejoin="round" stroke-linecap="butt" stroke-dasharray="6 2"/>
</g>
<g shape-rendering="crispEdges">
<rect x="329" y="407" width="177" height="2" fill="#2E8B57"/>
<rect x="506" y="407" width="8" height="2" fill="#CC99FF"/>
<rect x="514" y="407" width="152" height="2" fill="#778899"/>
</g>
<text x="322.5" y="315.8" font-size="9.2" fill="#000" stroke="#000" text-anchor="end" >0.8</text>
<text x="322.5" y="338.4" font-size="9.2" fill="#000" stroke="#000" text-anchor="end" >0.6</text>
<text x="322.5" y="361" font-size="9.2" fill="#000" stroke="#000" text-anchor="end" >0.4</text>
<text x="322.5" y="383.6" font-size="9.2" fill="#000" stroke="#000" text-anchor="end" >0.2</text>
<text x="322.5" y="406.2" font-size="9.2" fill="#000" stroke="#000" text-anchor="end" >0</text>
<text x="680" y="332" font-size="9.2" fill="#000" stroke="#000" text-anchor="start" >20</text>
<text x="680" y="372.7" font-size="9.2" fill="#000" stroke="#000" text-anchor="start" >10</text>
<text x="398" y="421.2" font-size="9.2" fill="#000" stroke="#000" text-anchor="middle" >0.5</text>
<text x="466.7" y="421.2" font-size="9.2" fill="#000" stroke="#000" text-anchor="middle" >0.6</text>
<text x="535.6" y="421.2" font-size="9.2" fill="#000" stroke="#000" text-anchor="middle" >0.7</text>
<text x="604.5" y="421.2" font-size="9.2" fill="#000" stroke="#000" text-anchor="middle" >0.8</text>
<text x="673" y="421.2" font-size="9.2" fill="#000" stroke="#000" text-anchor="middle" >0.9</text>
<text x="502" y="432.3" font-size="9.2" fill="#000" stroke="#000" text-anchor="middle"  textLength="26.3" lengthAdjust="spacingAndGlyphs">m/M<tspan font-size="7" dy="2.5">☉</tspan></text>
<text x="720" y="357" font-size="9" fill="#000" stroke="#000" text-anchor="middle" transform="rotate(-90 720 357)"  textLength="71.8" lengthAdjust="spacingAndGlyphs">entropy (k<tspan font-size="6.5" dy="2">B</tspan><tspan dy="-2">/m</tspan><tspan font-size="6.5" dy="2">p</tspan><tspan dy="-2">)</tspan></text>
<text x="298" y="338" font-size="7" fill="#D2B48C" stroke="#D2B48C" text-anchor="start" transform="rotate(-90 298 338)"  style="stroke-width:0">∇<tspan font-size="6" dy="3">ad</tspan></text>
<text x="283.2" y="362.5" font-size="7" fill="#B22222" stroke="#B22222" text-anchor="start" transform="rotate(-90 283.2 362.5)"  style="stroke-width:0">∇<tspan font-size="4" dy="3.5">T</tspan></text>
<text x="298" y="391" font-size="7" fill="#FF7F50" stroke="#FF7F50" text-anchor="start" transform="rotate(-90 298 391)"  style="stroke-width:0">∇<tspan font-size="6" dy="3">rad</tspan></text>
</g>
</svg></body></html>
